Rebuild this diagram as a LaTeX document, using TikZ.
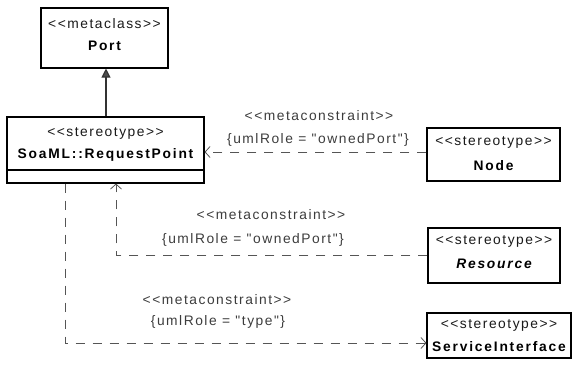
\documentclass[tikz,border=0pt]{standalone}
\usepackage{fontspec}
\newfontfamily\umlfont[LetterSpace=11]{Liberation Sans}
\newfontfamily\umlbold[LetterSpace=13]{Liberation Sans Bold}
\newfontfamily\umlbi[LetterSpace=13]{Liberation Sans Bold Italic}
\usetikzlibrary{arrows.meta}
\definecolor{txtgray}{HTML}{1A1A1A}
\definecolor{linegray}{HTML}{555555}
\begin{document}
\begin{tikzpicture}[x=1pt,y=-1pt,
  font=\umlfont\fontsize{13.8}{16}\selectfont,
  box/.style={draw=black, line width=1.1pt, fill=white, inner sep=0pt},
  txt/.style={inner sep=0pt, text=txtgray, anchor=center},
  bt/.style={inner sep=0pt, text=black, anchor=center, font=\umlbold\fontsize{13.8}{16}\selectfont},
  bit/.style={inner sep=0pt, text=black, anchor=center, font=\umlbi\fontsize{13.8}{16}\selectfont},
  lbl/.style={inner sep=0pt, text=txtgray!85!white, anchor=center},
  dep/.style={draw=linegray, line width=0.8pt, dash pattern=on 9pt off 8pt, -{Straight Barb[length=5pt,width=11pt,line width=0.8pt]}},
  gen/.style={draw=black!80, line width=1.1pt, -{Triangle[length=9pt,width=9pt,fill=black!70]}}
]
\useasboundingbox (0,0) rectangle (582,370);

% boxes
\node[box, minimum width=127, minimum height=60] (port) at (104.5,38) {};
\node[txt] (portst) at (104.5,24) {<<metaclass>>};
\node[bt] (portnm) at (104.5,46) {Port};

\node[box, minimum width=197, minimum height=66] (rp) at (105.5,150) {};
\node[txt] (rpst) at (105.5,133) {<<stereotype>>};
\node[bt] (rpnm) at (105.5,155) {SoaML::RequestPoint};
\draw[line width=1.6pt] (7,170) -- (204,170);

\node[box, minimum width=133, minimum height=53] (nd) at (493.5,154.5) {};
\node[txt] (ndst) at (493.5,142) {<<stereotype>>};
\node[bt] (ndnm) at (493.5,166) {Node};

\node[box, minimum width=132, minimum height=55] (res) at (494,255.5) {};
\node[txt] (resst) at (494,241) {<<stereotype>>};
\node[bit] (resnm) at (494,264) {Resource};

\node[box, minimum width=144, minimum height=45] (si) at (499,335.5) {};
\node[txt] (sist) at (499,325) {<<stereotype>>};
\node[bt] (sinm) at (499,347) {ServiceInterface};

% helper coordinates
\coordinate (y1) at (0,152);
\coordinate (y2) at (0,255);
\coordinate (y3) at (0,343);
\coordinate (x2) at (116,0);
\coordinate (x3) at (65,0);
\coordinate (rpt) at (106,0);

% generalization
\draw[gen] (rp.north -| rpt) -- (port.south -| rpt);

% dependencies
\draw[dep] (nd.west |- y1) -- (rp.east |- y1);
\draw[dep] (res.west |- y2) -- (x2 |- y2) -- (rp.south -| x2);
\draw[dep] (rp.south -| x3) -- (x3 |- y3) -- (si.west |- y3);

% labels
\node[lbl] (l1a) at (319,116) {<<metaconstraint>>};
\node[lbl] (l1b) at (318,140) {\{umlRole = "ownedPort"\}};
\node[lbl] (l2a) at (271,215) {<<metaconstraint>>};
\node[lbl] (l2b) at (253,240) {\{umlRole = "ownedPort"\}};
\node[lbl] (l3a) at (217,300) {<<metaconstraint>>};
\node[lbl] (l3b) at (218,322) {\{umlRole = "type"\}};
\end{tikzpicture}
\end{document}
